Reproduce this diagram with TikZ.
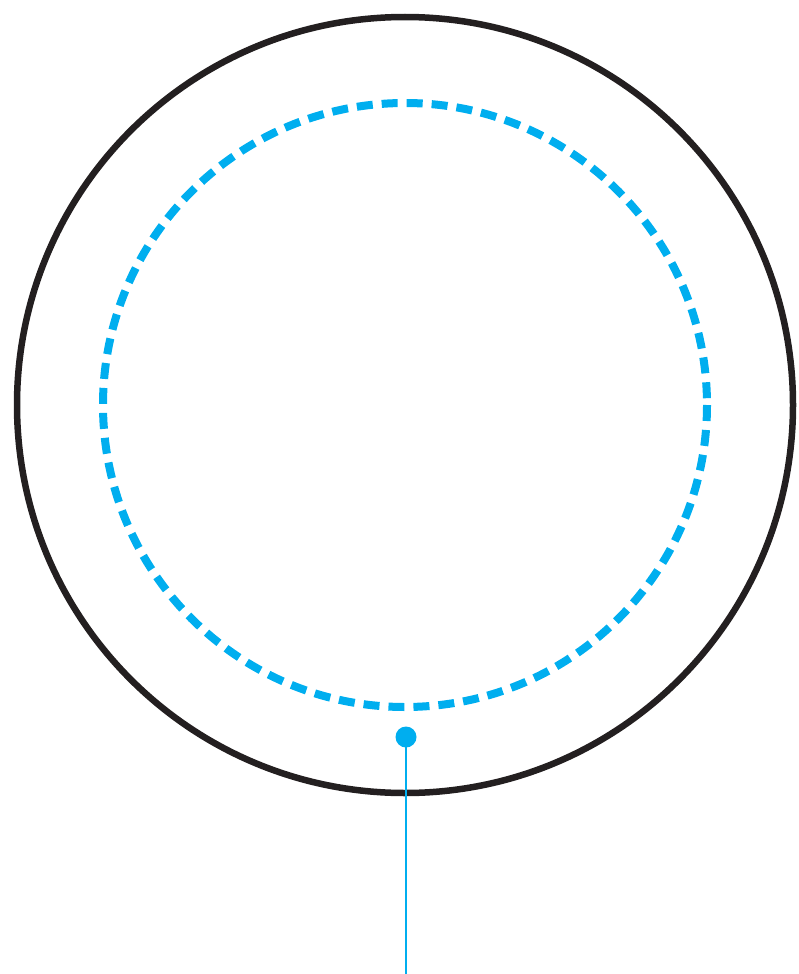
\documentclass[tikz,border=0pt]{standalone}
\definecolor{cyanblue}{HTML}{00AEEF}
\definecolor{ringblack}{HTML}{231F20}
\begin{document}
\begin{tikzpicture}[x=1pt,y=-1pt,
  outerring/.style={draw=ringblack,line width=6.5pt},
  innerring/.style={draw=cyanblue,line width=8pt,dash pattern=on 16pt off 9pt},
  leader/.style={draw=cyanblue,line width=2.5pt},
  dotstyle/.style={circle,fill=cyanblue,inner sep=0pt,minimum size=21pt}]
\useasboundingbox (0,0) rectangle (798,974);
\coordinate (c) at (405,405);
\draw[outerring] (c) circle[radius=388];
\draw[innerring] (c) circle[radius=302];
\node[dotstyle] (dot) at (406,737) {};
\coordinate (end) at (406,974);
\draw[leader] (dot.center) -- (end);
\end{tikzpicture}
\end{document}
